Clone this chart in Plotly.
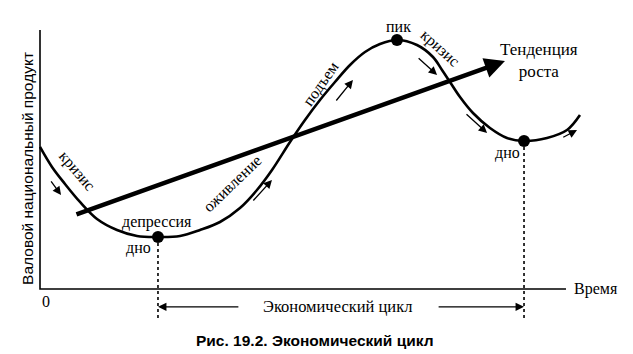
import plotly.graph_objects as go

# ---- data (time in % of axis length, GNP in % of axis height) ----
time = [0, 2.28, 4.75, 7.60, 10.84, 14.64, 18.44, 22.43, 26.62, 30.42, 34.22, 38.02,
        41.25, 44.11, 47.53, 50.38, 53.23, 56.08, 58.94, 61.79, 64.64, 67.87, 71.67,
        74.71, 76.43, 77.95, 79.85, 82.32, 85.55, 88.78, 92.02, 96.39, 100.19, 102.66]
gnp = [54.83, 47.10, 40.54, 33.59, 27.03, 22.78, 20.46, 20.08, 20.46, 22.78, 25.87, 31.27,
       38.22, 45.95, 56.76, 65.25, 72.97, 79.92, 86.49, 91.51, 94.59, 96.14, 94.21,
       89.58, 84.56, 79.92, 74.13, 67.95, 62.16, 58.30, 57.14, 58.30, 61.39, 67.18]
extreme_idx = [7, 21, 30]          # trough, peak, trough
trend_t = [6.65, 88.4]
trend_g = [28.6, 88.0]
axis_len = 100
cycle_label_g = -6.9
guide_bottom = -11.2

SERIF = "Liberation Serif"
SANS = "Liberation Sans"

fig = go.Figure()

# axes
fig.add_trace(go.Scatter(x=[0, 0, axis_len], y=[axis_len, 0, 0], mode="lines",
                         line=dict(color="black", width=1.6), hoverinfo="skip"))

# dotted guides from troughs
for i in (extreme_idx[0], extreme_idx[2]):
    fig.add_trace(go.Scatter(x=[time[i], time[i]], y=[gnp[i], guide_bottom], mode="lines",
                             line=dict(color="black", width=1.6, dash="3px,3px"),
                             hoverinfo="skip"))

# cycle curve
fig.add_trace(go.Scatter(x=time, y=gnp, mode="lines",
                         line=dict(color="black", width=2.6, shape="spline", smoothing=1.0),
                         hoverinfo="skip"))

# extreme points
fig.add_trace(go.Scatter(x=[time[i] for i in extreme_idx], y=[gnp[i] for i in extreme_idx],
                         mode="markers", marker=dict(color="black", size=12), hoverinfo="skip"))

ann = []
# trend arrow
ann.append(dict(x=trend_t[1], y=trend_g[1], ax=trend_t[0], ay=trend_g[0],
                xref="x", yref="y", axref="x", ayref="y", text="", showarrow=True,
                arrowhead=2, arrowsize=0.9, arrowwidth=4.5, arrowcolor="black", standoff=0))

# small direction arrows (tail -> head)
small_arrows = [((1.9, 42.1), (4.0, 36.3)),
                ((40.3, 33.6), (44.1, 42.1)),
                ((56.1, 72.2), (59.5, 80.7)),
                ((71.7, 89.6), (75.5, 82.6)),
                ((80.8, 68.0), (85.0, 60.2)),
                ((99.2, 58.3), (102.1, 61.4))]
for (tx, ty), (hx, hy) in small_arrows:
    ann.append(dict(x=hx, y=hy, ax=tx, ay=ty, xref="x", yref="y", axref="x", ayref="y",
                    text="", showarrow=True, arrowhead=2, arrowsize=1.3, arrowwidth=1.3,
                    arrowcolor="black", standoff=0))

# cycle span arrows
ann.append(dict(x=time[extreme_idx[0]], y=cycle_label_g, ax=38.0, ay=cycle_label_g,
                xref="x", yref="y", axref="x", ayref="y", text="", showarrow=True,
                arrowhead=2, arrowsize=1.3, arrowwidth=1.3, arrowcolor="black", standoff=0))
ann.append(dict(x=time[extreme_idx[2]], y=cycle_label_g, ax=75.5, ay=cycle_label_g,
                xref="x", yref="y", axref="x", ayref="y", text="", showarrow=True,
                arrowhead=2, arrowsize=1.3, arrowwidth=1.3, arrowcolor="black", standoff=0))

labels = [
    ("кризис", 7.03, 45.6, 50, SERIF, 16, "center"),
    ("депрессия", 22.2, 25.9, 0, SERIF, 16, "center"),
    ("дно", 18.8, 15.8, 0, SERIF, 16, "center"),
    ("оживление", 36.5, 40.9, -44, SERIF, 16, "center"),
    ("подъем", 53.4, 79.2, -55, SERIF, 16, "center"),
    ("пик", 68.1, 101.5, 0, SERIF, 16, "center"),
    ("кризис", 76.0, 93.1, 42, SERIF, 16, "center"),
    ("Тенденция<br>роста", 94.9, 88.4, 0, SERIF, 17, "center"),
    ("дно", 88.8, 52.5, 0, SERIF, 16, "center"),
    ("Время", 101.1, 0, 0, SERIF, 16, "left"),
    ("0", 1.1, -5.0, 0, SERIF, 16, "center"),
    ("Экономический цикл", 56.5, cycle_label_g, 0, SERIF, 16.5, "center"),
    ("<b>Рис. 19.2. Экономический цикл</b>", 52.3, -19.7, 0, SANS, 15.5, "center"),
    ("Валовой национальный продукт", -2.5, 46.7, -90, SANS, 15.5, "center"),
]
for text, x, y, ang, fam, size, xa in labels:
    ann.append(dict(x=x, y=y, xref="x", yref="y", text=text, showarrow=False,
                    textangle=ang, xanchor=xa, yanchor="middle",
                    font=dict(family=fam, size=size, color="black")))

fig.update_layout(
    width=633, height=354, margin=dict(l=0, r=0, t=0, b=0),
    paper_bgcolor="white", plot_bgcolor="white", showlegend=False,
    xaxis=dict(range=[-7.605, 112.74], visible=False, fixedrange=True),
    yaxis=dict(range=[-25.10, 111.58], visible=False, fixedrange=True),
    annotations=ann,
)

fig.write_html("out.html")
